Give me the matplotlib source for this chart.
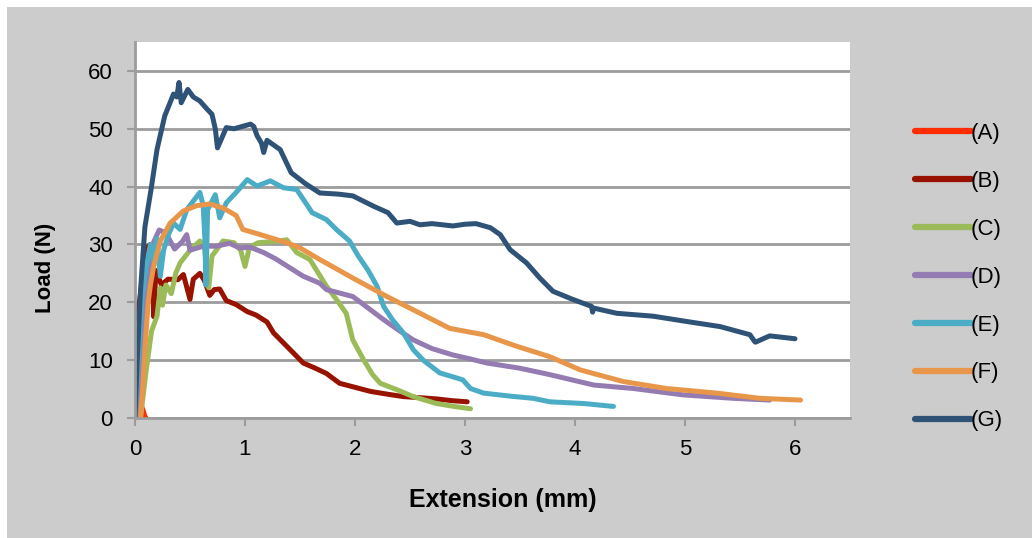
import numpy as np
import matplotlib.pyplot as plt
from matplotlib.patches import Rectangle

plt.rcParams['font.family'] = ['Liberation Sans', 'DejaVu Sans']

a_x = [0.0, 0.03, 0.05, 0.07, 0.09, 0.1]
a_y = [0.0, 0.5, 2.5, 1.5, 0.3, 0.0]

b_x = [0.0, 0.04, 0.08, 0.11, 0.14, 0.16, 0.17, 0.19, 0.24, 0.3, 0.39, 0.44, 0.5, 0.53, 0.59,
       0.63, 0.68, 0.72, 0.77, 0.83, 0.92, 1.02, 1.1, 1.2, 1.26, 1.38, 1.53, 1.64, 1.74, 1.86,
       2.0, 2.14, 2.3, 2.44, 2.6, 2.74, 2.88, 3.02]
b_y = [17.0, 20.0, 26.0, 29.5, 30.0, 28.0, 17.5, 25.5, 23.0, 24.0, 23.9, 24.8, 20.5, 24.0, 25.0,
       23.8, 21.2, 22.2, 22.3, 20.3, 19.6, 18.4, 17.8, 16.6, 14.7, 12.4, 9.5, 8.6, 7.7, 6.0,
       5.3, 4.6, 4.1, 3.7, 3.5, 3.3, 3.0, 2.8]

c_x = [0.05, 0.1, 0.15, 0.2, 0.23, 0.25, 0.28, 0.33, 0.37, 0.41, 0.5, 0.59, 0.63, 0.67, 0.7,
       0.8, 0.9, 0.96, 1.0, 1.04, 1.12, 1.25, 1.38, 1.47, 1.59, 1.74, 1.85, 1.92, 1.98, 2.08,
       2.16, 2.23, 2.38, 2.53, 2.74, 2.9, 3.05]
c_y = [0.0, 8.0, 15.0, 17.6, 22.5, 19.5, 23.0, 21.5, 25.0, 26.8, 29.0, 30.6, 29.8, 22.5, 28.0,
       30.6, 30.3, 29.0, 26.2, 29.5, 30.3, 30.5, 30.8, 28.6, 27.4, 22.8, 20.0, 18.1, 13.5, 10.0,
       7.5, 6.0, 4.9, 3.7, 2.5, 2.0, 1.6]

d_x = [0.03, 0.08, 0.12, 0.16, 0.22, 0.28, 0.36, 0.43, 0.47, 0.5, 0.62, 0.74, 0.86, 0.95,
       1.05, 1.17, 1.28, 1.38, 1.53, 1.68, 1.74, 1.98, 2.12, 2.26, 2.41, 2.53, 2.7, 2.89, 3.05,
       3.2, 3.5, 3.77, 4.17, 4.53, 4.98, 5.44, 5.77]
d_y = [0.0, 15.0, 25.0, 30.0, 32.5, 32.0, 29.2, 30.5, 31.7, 29.0, 29.7, 29.7, 30.2, 29.4,
       29.5, 28.6, 27.5, 26.3, 24.5, 23.3, 22.2, 21.0, 19.0, 17.0, 15.0, 13.5, 12.0, 10.9, 10.2,
       9.5, 8.6, 7.5, 5.7, 5.1, 4.0, 3.4, 3.1]

e_x = [0.0, 0.03, 0.06, 0.1, 0.14, 0.17, 0.2, 0.23, 0.26, 0.3, 0.35, 0.41, 0.47, 0.53, 0.59,
       0.62, 0.635, 0.645, 0.66, 0.73, 0.77, 0.83, 0.92, 1.02, 1.11, 1.23, 1.35, 1.47, 1.53,
       1.61, 1.74, 1.83, 1.95, 2.03, 2.12, 2.2, 2.26, 2.34, 2.44, 2.53, 2.62, 2.77, 2.98, 3.05,
       3.17, 3.4, 3.62, 3.77, 4.08, 4.35]
e_y = [0.0, 10.0, 20.0, 26.0, 30.0, 27.0, 31.0, 24.5, 29.0, 31.5, 33.7, 32.6, 36.0, 37.5, 39.0,
       36.7, 31.0, 23.0, 36.0, 38.6, 34.6, 37.2, 39.0, 41.2, 40.1, 41.0, 39.8, 39.5, 37.8,
       35.5, 34.3, 32.6, 30.6, 28.0, 25.5, 22.8, 19.3, 17.0, 14.7, 11.8, 10.0, 7.8, 6.6, 5.1,
       4.3, 3.8, 3.4, 2.8, 2.5, 2.0]

f_x = [0.05, 0.07, 0.09, 0.12, 0.14, 0.17, 0.23, 0.32, 0.44, 0.56, 0.68, 0.8, 0.92, 0.98,
       1.14, 1.38, 1.5, 1.68, 1.98, 2.29, 2.53, 2.86, 3.17, 3.47, 3.77, 4.05, 4.44, 4.83, 5.29,
       5.68, 6.05]
f_y = [0.0, 5.0, 12.0, 20.0, 23.0, 26.2, 30.6, 33.7, 35.8, 36.7, 37.0, 36.3, 35.0, 32.6,
       31.7, 30.3, 29.4, 27.4, 24.2, 21.0, 18.7, 15.5, 14.4, 12.4, 10.6, 8.3, 6.3, 5.1, 4.3,
       3.4, 3.1]

g_x = [0.0, 0.02, 0.05, 0.09, 0.15, 0.2, 0.27, 0.35, 0.38, 0.4, 0.42, 0.48, 0.53, 0.59, 0.65,
       0.7, 0.73, 0.75, 0.78, 0.83, 0.9, 1.05, 1.08, 1.11, 1.15, 1.17, 1.2, 1.32, 1.42, 1.55,
       1.68, 1.85, 1.98, 2.17, 2.3, 2.38, 2.5, 2.59, 2.7, 2.89, 3.0, 3.1, 3.23, 3.32, 3.41,
       3.56, 3.68, 3.8, 3.98, 4.15, 4.16, 4.17, 4.38, 4.71, 5.01, 5.32, 5.59, 5.63, 5.64, 5.77,
       6.0]
g_y = [0.0, 10.0, 22.0, 33.0, 40.0, 46.4, 52.2, 56.0, 55.5, 58.0, 54.5, 56.8, 55.5, 54.8, 53.5,
       52.5, 50.0, 46.7, 48.0, 50.2, 50.0, 50.8, 50.4, 48.8, 47.5, 45.9, 48.0, 46.4, 42.4, 40.5,
       38.9, 38.7, 38.4, 36.6, 35.5, 33.7, 34.0, 33.4, 33.6, 33.2, 33.5, 33.6, 32.9, 31.7, 29.1,
       26.8, 24.2, 21.9, 20.5, 19.3, 18.3, 19.0, 18.1, 17.6, 16.7, 15.8, 14.4, 13.3, 13.1, 14.2,
       13.7]

labels = ['(A)', '(B)', '(C)', '(D)', '(E)', '(F)', '(G)']
colors = ['#ff2d00', '#981200', '#9bbb59', '#947cb2', '#4bacc6', '#e8974a', '#2f5377']
xs = [a_x, b_x, c_x, d_x, e_x, f_x, g_x]
ys = [a_y, b_y, c_y, d_y, e_y, f_y, g_y]

fig = plt.figure(figsize=(10.32, 5.38), dpi=100)
fig.patch.set_facecolor('#cccccc')
# thin white margin on top and left edges
fig.patches.append(Rectangle((0, 0), 7 / 1032, 1, transform=fig.transFigure,
                             facecolor='white', edgecolor='none', zorder=-10))
fig.patches.append(Rectangle((0, 1 - 7 / 538), 1, 7 / 538, transform=fig.transFigure,
                             facecolor='white', edgecolor='none', zorder=-10))

ax = fig.add_axes([135 / 1032, 1 - 418 / 538, 715 / 1032, 376 / 538])
ax.set_facecolor('white')

for x, y, c, lab in zip(xs, ys, colors, labels):
    ax.plot(x, y, color=c, lw=3.6, label=lab, solid_capstyle='round', solid_joinstyle='round')

ax.set_xlim(0, 6.5)
ax.set_ylim(0, 65)
ax.set_xticks(np.arange(0, 7, 1))
ax.set_yticks(np.arange(0, 70, 10))
ax.yaxis.grid(True, color='#9c9c9c', lw=2)
ax.set_axisbelow(True)

for s in ['top', 'right']:
    ax.spines[s].set_visible(False)
for s in ['left', 'bottom']:
    ax.spines[s].set_color('#9c9c9c')
    ax.spines[s].set_linewidth(2)
ax.tick_params(axis='both', colors='#9c9c9c', width=1.5, length=6, labelsize=16,
               labelcolor='black')
ax.tick_params(axis='x', pad=9)
ax.tick_params(axis='y', pad=10)

fig.text(503 / 1032, 1 - 500 / 538, 'Extension (mm)', fontsize=18, fontweight='bold',
         ha='center', va='center')
fig.text(45 / 1032, 1 - 268 / 538, 'Load (N)', fontsize=16, fontweight='bold',
         ha='center', va='center', rotation=90)

leg = fig.legend(loc='upper left', bbox_to_anchor=(895 / 1032, 1 - 103 / 538), frameon=False,
                 fontsize=16, handlelength=2.5, handletextpad=0.02, labelspacing=1.21)
for h in leg.get_lines():
    h.set_linewidth(4.5)

fig.savefig('out.png', dpi=100, facecolor=fig.get_facecolor())
